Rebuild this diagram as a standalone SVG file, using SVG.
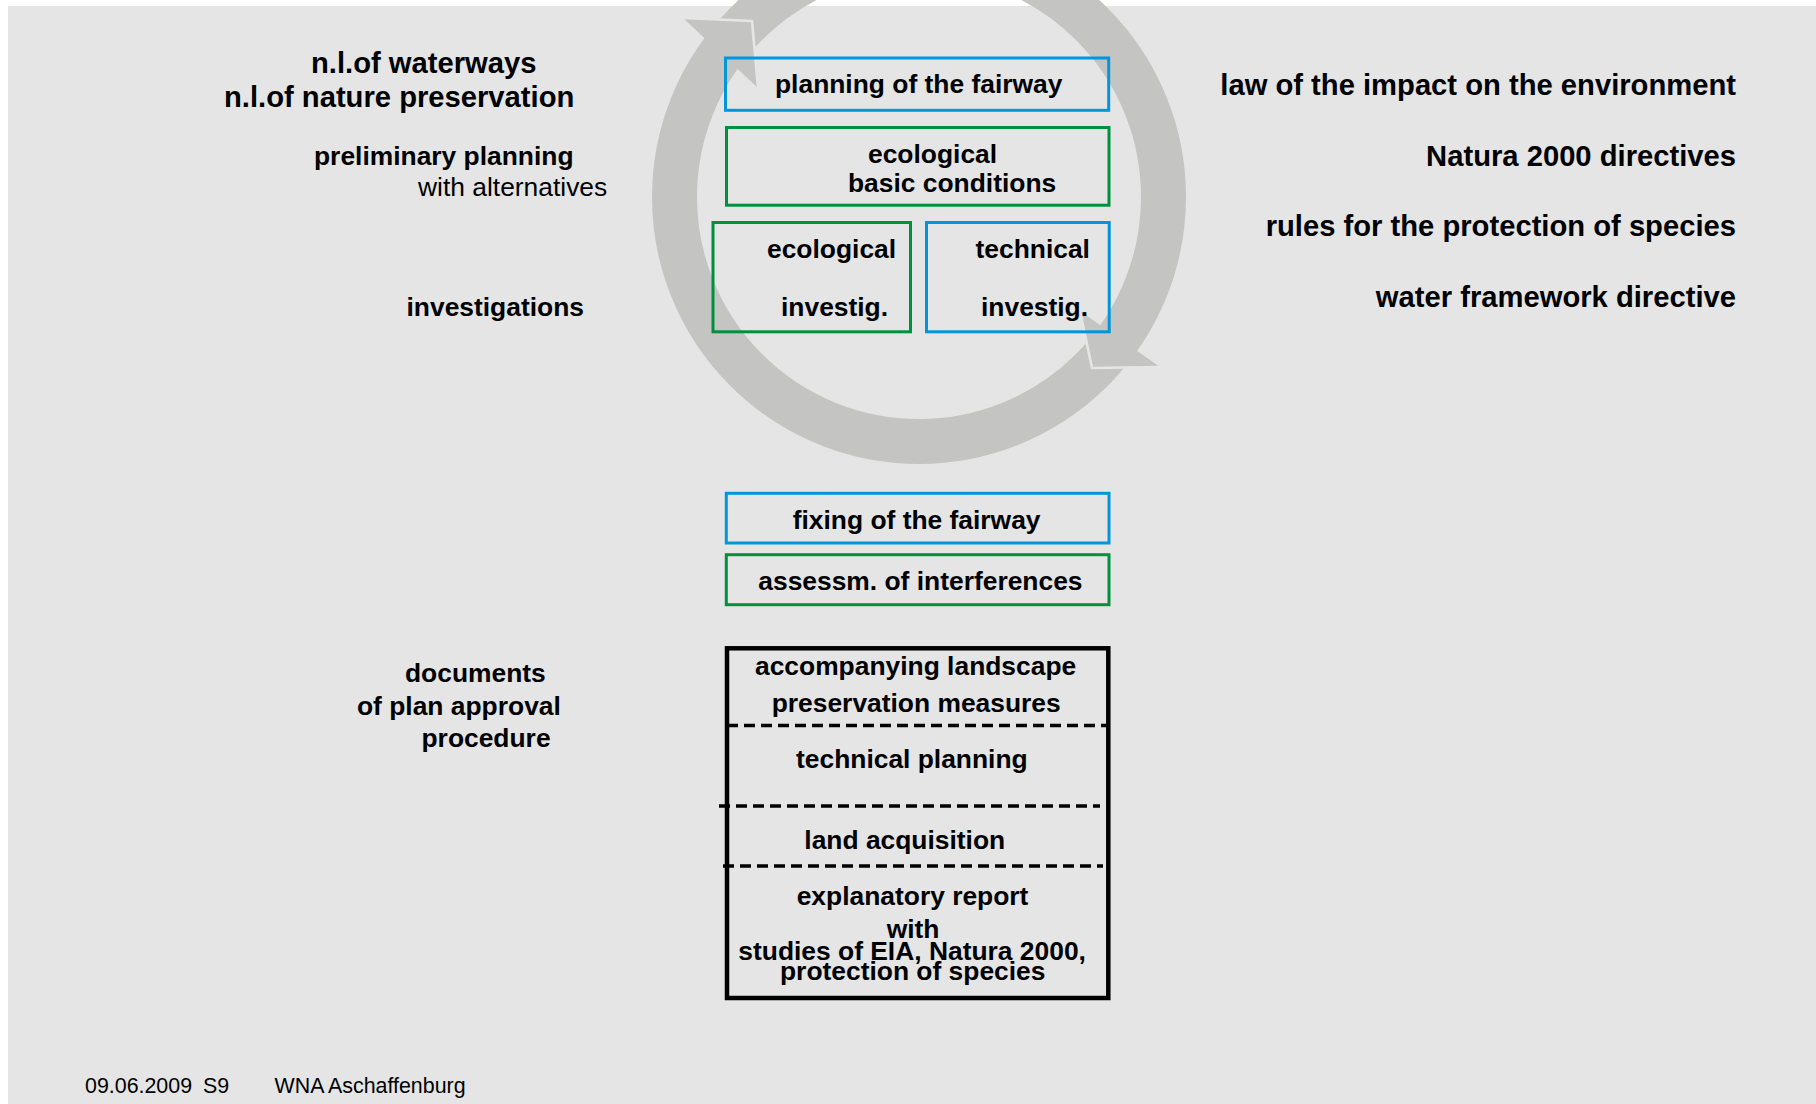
<svg xmlns="http://www.w3.org/2000/svg" width="1816" height="1104" viewBox="0 0 1816 1104">
<style>
  .bg{fill:#e5e5e5}
  .ring{fill:none;stroke:#c4c4c2;stroke-width:45}
  .head{fill:#c4c4c2;stroke:none}
  .edge{fill:none;stroke:#e6e6e6;stroke-width:2.6;stroke-linejoin:miter}
  .blue{fill:none;stroke:#0096dc;stroke-width:3}
  .green{fill:none;stroke:#00913c;stroke-width:3}
  .black{fill:none;stroke:#000;stroke-width:4.5}
  .dash{stroke:#000;stroke-width:3.3;stroke-dasharray:11 6}
  text{font-family:"Liberation Sans",Arial,Helvetica,sans-serif;fill:#000}
  .b{font-weight:bold;font-size:26.4px}
  .bl{font-weight:bold;font-size:29.2px}
  .r{font-size:26.4px}
  .f{font-size:21.4px}
  .end{text-anchor:end}
</style>
<rect width="1816" height="1104" fill="#ffffff"/>
<rect class="bg" x="8" y="6" width="1808" height="1098"/>

<g id="cycle">
  <circle class="ring" cx="919" cy="197" r="244.5"/>
  <polygon class="head" points="683,18 752,21 758,88"/>
  <polyline class="edge" points="683,18 752,21 758,88"/>
  <polygon class="head" points="1160,367 1092,368 1080,311"/>
  <polyline class="edge" points="1160,367 1092,368 1080,311"/>
</g>

<g id="left-labels">
  <text class="bl" x="311" y="73">n.l.of waterways</text>
  <text class="bl" x="224" y="106.5">n.l.of nature preservation</text>
  <text class="b" x="314" y="165">preliminary planning</text>
  <text class="r" x="418" y="196">with alternatives</text>
  <text class="b" x="406.5" y="316">investigations</text>
  <text class="b" x="405" y="682">documents</text>
  <text class="b" x="357" y="714.5">of plan approval</text>
  <text class="b" x="421.5" y="747">procedure</text>
</g>

<g id="right-labels">
  <text class="bl end" x="1736" y="95">law of the impact on the environment</text>
  <text class="bl end" x="1736" y="165.5">Natura 2000 directives</text>
  <text class="bl end" x="1736" y="236">rules for the protection of species</text>
  <text class="bl end" x="1736" y="306.5">water framework directive</text>
</g>

<g id="planning-fairway">
  <rect class="blue" x="725.5" y="58" width="383.2" height="52.3"/>
  <text class="b" x="775" y="92.5">planning of the fairway</text>
</g>
<g id="eco-basic">
  <rect class="green" x="726.5" y="127.5" width="382.5" height="77.7"/>
  <text class="b" x="868" y="163">ecological</text>
  <text class="b" x="848" y="192">basic conditions</text>
</g>
<g id="eco-investig">
  <rect class="green" x="713" y="222.5" width="197.5" height="109.3"/>
  <text class="b" x="767" y="258">ecological</text>
  <text class="b" x="781" y="316">investig.</text>
</g>
<g id="tech-investig">
  <rect class="blue" x="926.5" y="222.5" width="182.7" height="109.3"/>
  <text class="b" x="975.5" y="258">technical</text>
  <text class="b" x="981" y="316">investig.</text>
</g>
<g id="fixing-fairway">
  <rect class="blue" x="726.3" y="493.3" width="382.7" height="49.7"/>
  <text class="b" x="792.7" y="528.5">fixing of the fairway</text>
</g>
<g id="assessment">
  <rect class="green" x="726.3" y="554.7" width="382.7" height="50"/>
  <text class="b" x="758.3" y="590">assessm. of interferences</text>
</g>
<g id="documents-box">
  <rect class="black" x="727" y="648.3" width="381.3" height="349.7"/>
  <line class="dash" x1="727" y1="725.5" x2="1108" y2="725.5"/>
  <line class="dash" x1="719" y1="806" x2="1100" y2="806"/>
  <line class="dash" x1="723" y1="866" x2="1103" y2="866"/>
  <text class="b" x="755" y="675">accompanying landscape</text>
  <text class="b" x="771.7" y="711.7">preservation measures</text>
  <text class="b" x="796" y="768.3">technical planning</text>
  <text class="b" x="804.3" y="849">land acquisition</text>
  <text class="b" x="796.7" y="905">explanatory report</text>
  <text class="b" x="886.7" y="938.3">with</text>
  <text class="b" x="738.3" y="960">studies of EIA, Natura 2000,</text>
  <text class="b" x="780" y="980">protection of species</text>
</g>

<g id="connectors"></g>

<g id="footer">
  <text class="f" x="85" y="1093">09.06.2009</text>
  <text class="f" x="203" y="1093">S9</text>
  <text class="f" x="274.5" y="1093">WNA Aschaffenburg</text>
</g>
</svg>
